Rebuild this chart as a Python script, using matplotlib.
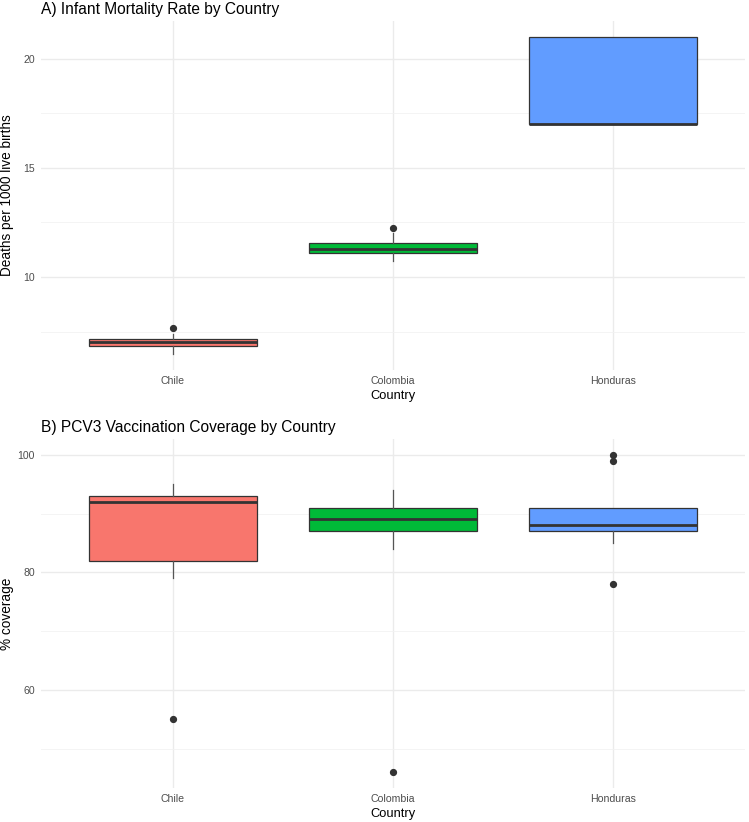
import numpy as np
import matplotlib.pyplot as plt

plt.rcParams['font.family'] = ['Liberation Sans', 'DejaVu Sans']

countries = ["Chile", "Colombia", "Honduras"]
colors = ["#F8766D", "#00BA38", "#619CFF"]

# infant mortality (deaths per 1000 live births) - box stats
imr_low = [6.47, 10.73, 17.0]
imr_q1 = [6.83, 11.10, 17.0]
imr_med = [7.02, 11.30, 17.0]
imr_q3 = [7.16, 11.56, 21.0]
imr_high = [7.38, 12.0, 21.0]
imr_out = [[7.66], [12.23], []]

# PCV3 coverage (%)
pcv_low = [79, 84, 85]
pcv_q1 = [82, 87, 87]
pcv_med = [92, 89, 88]
pcv_q3 = [93, 91, 91]
pcv_high = [95, 94, 91]
pcv_out = [[55], [46], [100, 99, 78]]


def make_stats(low, q1, med, q3, high, out):
    st = []
    for i in range(len(countries)):
        st.append({"whislo": low[i], "q1": q1[i], "med": med[i], "q3": q3[i],
                   "whishi": high[i], "fliers": out[i], "label": countries[i]})
    return st


def draw(ax, stats, title, ylabel, major, minor):
    pos = np.arange(1, len(countries) + 1)
    bp = ax.bxp(stats, positions=pos, widths=0.76, patch_artist=True,
                showfliers=True,
                boxprops=dict(edgecolor="#333333", linewidth=0.9),
                medianprops=dict(color="#333333", linewidth=2.0),
                whiskerprops=dict(color="#555555", linewidth=0.9),
                capprops=dict(linewidth=0),
                flierprops=dict(marker="o", markerfacecolor="#333333",
                                markeredgecolor="#333333", markersize=4.2))
    for patch, c in zip(bp["boxes"], colors):
        patch.set_facecolor(c)
    all_vals = []
    for s in stats:
        all_vals += [s["whislo"], s["whishi"]] + list(s["fliers"])
    lo, hi = min(all_vals), max(all_vals)
    pad = 0.05 * (hi - lo)
    ax.set_ylim(lo - pad, hi + pad)
    ax.set_xlim(0.4, 3.6)
    ax.set_yticks(major)
    ax.set_yticks(minor, minor=True)
    ax.set_xticks(pos)
    ax.set_xticklabels(countries)
    ax.grid(True, which="major", color="#EBEBEB", linewidth=1.0)
    ax.grid(True, which="minor", axis="y", color="#F2F2F2", linewidth=0.6)
    ax.set_axisbelow(True)
    for sp in ax.spines.values():
        sp.set_visible(False)
    ax.tick_params(which="both", length=0, labelsize=7.6, labelcolor="#4D4D4D", pad=4.5)
    ax.set_title(title, loc="left", fontsize=11.2, pad=5)
    ax.set_xlabel("Country", fontsize=9.3, labelpad=3)
    ax.set_ylabel(ylabel, fontsize=9.8)
    ax.yaxis.set_label_coords(-0.038, 0.5)


fig = plt.figure(figsize=(7.49, 8.22), dpi=100)
ax1 = fig.add_axes([0.0547, 0.5499, 0.940, 0.4246])
ax2 = fig.add_axes([0.0547, 0.0414, 0.940, 0.4246])

draw(ax1, make_stats(imr_low, imr_q1, imr_med, imr_q3, imr_high, imr_out),
     "A) Infant Mortality Rate by Country", "Deaths per 1000 live births",
     [10, 15, 20], [7.5, 12.5, 17.5])
draw(ax2, make_stats(pcv_low, pcv_q1, pcv_med, pcv_q3, pcv_high, pcv_out),
     "B) PCV3 Vaccination Coverage by Country", "% coverage",
     [60, 80, 100], [50, 70, 90])

fig.savefig("out.png", dpi=100, facecolor="white")
